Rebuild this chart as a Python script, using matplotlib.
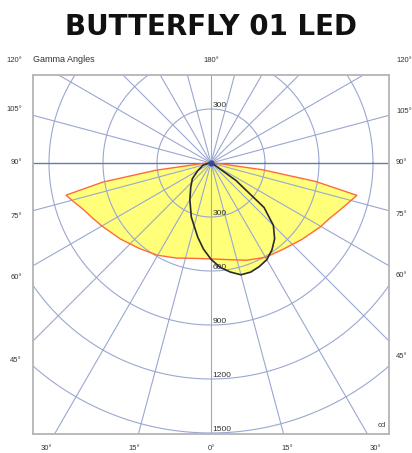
import numpy as np
import matplotlib
matplotlib.use("Agg")
import matplotlib.pyplot as plt

# ---------------- data ----------------
title = "BUTTERFLY 01 LED"
unit_label = "cd"
axis_caption = "Gamma Angles"

# C0 / C180 plane (yellow fill, red outline), gamma angle in degrees, cd
c_plane_angles = [0, 10, 20, 30, 40, 50, 60, 65, 70, 75, 77.5, 80, 82.5, 85, 87.5, 90]
c0_values   = [533, 545, 575, 605, 625, 660, 705, 727, 763, 805, 830, 590, 290, 60, 30, 15]
c180_values = [533, 538, 562, 592, 620, 657, 700, 725, 755, 800, 825, 610, 310, 70, 35, 15]

# C90 / C270 plane (black outline), signed gamma angle (negative = left)
c90_angles = [-90, -75, -60, -50, -40, -30, -20, -10, -5, 0, 5, 10, 15, 20, 25,
              30, 35, 40, 45, 50, 55, 60, 70, 90]
c90_values = [10, 45, 85, 135, 175, 235, 320, 420, 480, 535, 582, 615, 643, 645, 635,
              620, 590, 550, 490, 385, 170, 25, 10, 5]

ring_values = [300, 600, 900, 1200, 1500]
ring_labels = ["300", "600", "900", "1200", "1500"]
side_angles = [120, 105, 90, 75, 60, 45]
side_labels_left = ["120°", "105°", "90°", "75°", "60°", "45°"]
side_labels_right = ["120°", "105°", "90°", "75°", "60°", "45°"]
bottom_angles = [-30, -15, 0, 15, 30]
bottom_labels = ["30°", "15°", "0°", "15°", "30°"]
top_label = "180°"

# ---------------- layout ----------------
W, H = 412, 453
S = 0.18                      # px per cd
cx, cy = 211, 163             # centre in px
fl, fr, ft, fb = 33, 389, 75, 434

fig = plt.figure(figsize=(W / 100, H / 100), dpi=100)
ax = fig.add_axes([fl / W, 1 - fb / H, (fr - fl) / W, (fb - ft) / H])
ax.set_xlim((fl - cx) / S, (fr - cx) / S)
ax.set_ylim(-(fb - cy) / S, (cy - ft) / S)
ax.set_xticks([]); ax.set_yticks([])
for sp in ax.spines.values():
    sp.set_color("#b4b4b4"); sp.set_linewidth(1.3)
    sp.set_zorder(10)

grid_c = "#9aa8d0"

def pol(I, a):
    a = np.radians(np.asarray(a, float))
    I = np.asarray(I, float)
    return I * np.sin(a), -I * np.cos(a)

# yellow C0-C180 polygon
la = -np.array(c_plane_angles[::-1]); lv = np.array(c180_values[::-1])
ra = np.array(c_plane_angles); rv = np.array(c0_values)
xl, yl = pol(lv, la); xr, yr = pol(rv, ra)
px = np.concatenate([xl, xr]); py = np.concatenate([yl, yr])

bx, by = pol(c90_values, c90_angles)

yellow = "#ffff7a"
ax.fill(px, py, color=yellow, zorder=1, lw=0)
ax.fill(bx, by, color=yellow, zorder=1, lw=0)

# grid
t = np.linspace(0, 2 * np.pi, 400)
for r in ring_values:
    ax.plot(r * np.cos(t), r * np.sin(t), color=grid_c, lw=0.8, zorder=2)
for g in range(0, 360, 15):
    gx, gy = pol([0, 3000], [g, g])
    col = "#6677b8" if g in (90, 270) else grid_c
    ax.plot(gx, gy, color=col, lw=0.8 if g not in (90, 270) else 1.0, zorder=2)

ax.plot(px, py, color="#ff6a3a", lw=1.0, zorder=4)
ax.plot(bx, by, color="#2a2a2a", lw=1.2, zorder=5)
ax.plot([0], [0], "o", color="#3048a0", ms=3.5, zorder=6)

# ring labels
for r, lab in zip(ring_values, ring_labels):
    ax.text(10, -r + 22, lab, fontsize=6, color="#333333", ha="left", va="center",
            family="Liberation Sans", zorder=7)
ax.text(10, ring_values[0] + 22, ring_labels[0], fontsize=6, color="#333333",
        ha="left", va="center", family="Liberation Sans", zorder=7)

# angle labels
lab_kw = dict(fontsize=5.5, color="#333333", family="Liberation Sans", clip_on=False)
top_y = (cy - 60) / S
for a, lab in zip(side_angles, side_labels_left):
    xd = (13 - cx) / S
    yd = -abs(xd) / np.tan(np.radians(a))
    yd = min(yd, top_y)
    ax.text((22 - cx) / S, yd, lab, ha="right", va="center", **lab_kw)
for a, lab in zip(side_angles, side_labels_right):
    xd = (405 - cx) / S
    yd = -abs(xd) / np.tan(np.radians(a))
    yd = min(yd, top_y)
    ax.text((396 - cx) / S, yd, lab, ha="left", va="center", **lab_kw)
bot_y = -(448 - cy) / S
for a, lab in zip(bottom_angles, bottom_labels):
    ax.text(-bot_y * np.tan(np.radians(a)), bot_y, lab, ha="center", va="center", **lab_kw)
ax.text(0, top_y, top_label, ha="center", va="center", **lab_kw)
ax.text((fl - cx) / S, top_y, axis_caption, ha="left", va="center",
        **{**lab_kw, "fontsize": 6.5})
ax.text((386 - cx) / S, -(426 - cy) / S, unit_label, ha="right", va="center", **lab_kw)

fig.text(211 / W, 1 - 27 / H, title, ha="center", va="center", fontsize=20,
         fontweight="bold", family="DejaVu Sans", color="#111111")

fig.savefig("out.png", dpi=100, facecolor="white")
